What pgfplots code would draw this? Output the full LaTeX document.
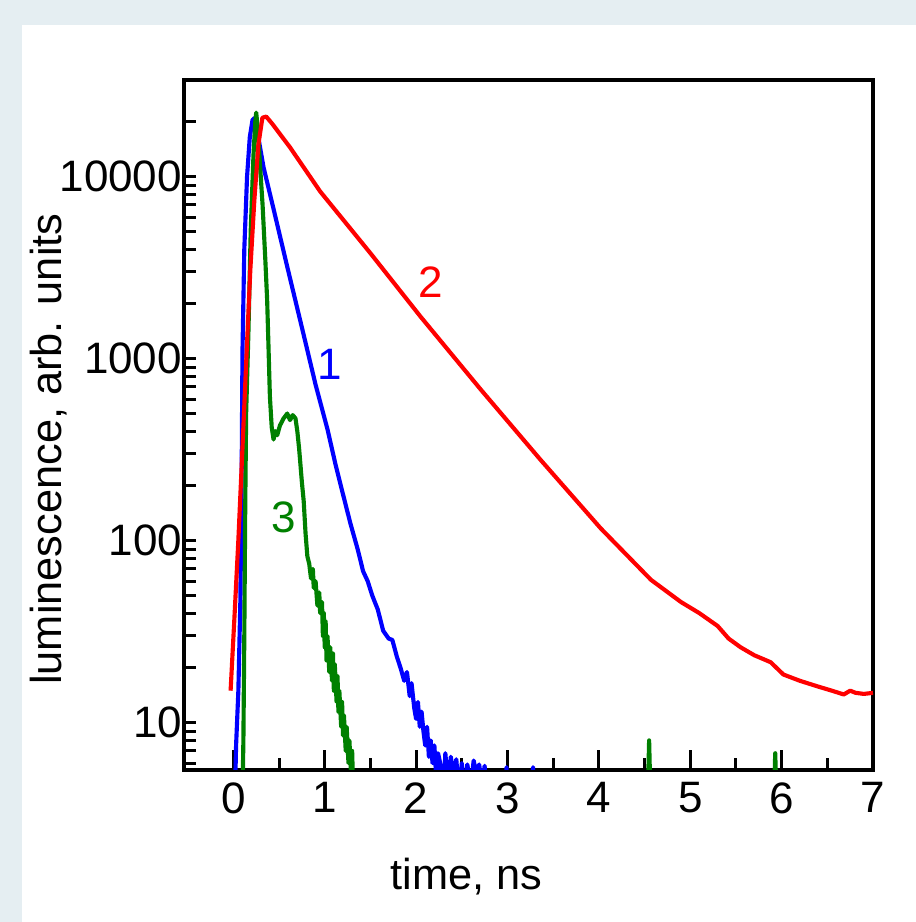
\documentclass[border=0pt]{standalone}
\usepackage{fontspec}
\setmainfont{Liberation Sans}
\usepackage{pgfplots}
\pgfplotsset{compat=1.18}
\definecolor{panelbg}{RGB}{229,238,242}
\definecolor{curvegreen}{RGB}{0,128,0}
\begin{document}
\begin{tikzpicture}[x=0.75pt,y=0.75pt]
\fill[panelbg] (0,0) rectangle (916,922);
\fill[white] (22,0) rectangle (916,897);
\begin{axis}[
  at={(138pt,114pt)}, anchor=south west,
  scale only axis, width=516.75pt, height=517.5pt,
  ymode=log,
  xmin=-0.54, xmax=7, ymin=5.5, ymax=34000,
  axis line style={line width=2.4pt},
  xtick={0,1,...,7},
  minor xtick={0.5,1.5,...,6.5},
  ytick={10,100,1000,10000},
  yticklabels={10,100,1000,10000},
  minor ytick={6,7,8,9,20,30,40,50,60,70,80,90,200,300,400,500,600,700,800,900,
               2000,3000,4000,5000,6000,7000,8000,9000,20000},
  xtick pos=left, ytick pos=left,
  tick align=inside,
  major tick length=15pt, minor tick length=9pt,
  xtick style={line width=2.2pt, black},
  ytick style={line width=2.2pt, black, /pgfplots/major tick length=9pt},
  /pgf/number format/assume math mode=true,
  tick label style={font=\fontsize{33}{33}\selectfont},
  xticklabel style={yshift=-6pt},
  yticklabel style={xshift=2pt},
  xlabel={time, ns},
  ylabel={luminescence, arb. units},
  xlabel style={font=\fontsize{32.5}{33}\selectfont, at={(axis description cs:0.41,-0.154)}, anchor=center},
  ylabel style={font=\fontsize{32.5}{33}\selectfont, at={(axis description cs:-0.196,0.465)}, anchor=center},
  clip=true,
]
% curve 1 (blue)
\addplot[blue, line width=3.1pt, line join=round] coordinates {
  (0.00,3) (0.02,4.5) (0.03,7.5) (0.055,15) (0.077,47) (0.09,200) (0.10,1100)
  (0.12,4000) (0.15,10000) (0.18,16500) (0.21,20500) (0.23,21000) (0.25,19500)
  (0.27,16800) (0.33,11300) (0.44,6650) (0.59,3200) (0.77,1350) (0.90,720)
  (1.03,410) (1.12,260) (1.20,180) (1.28,125) (1.36,90) (1.42,68) (1.47,60)
  (1.52,50) (1.58,42) (1.64,32) (1.70,29) (1.74,28.5) (1.79,23) (1.83,20)
  (1.87,17) (1.90,19) (1.93,14) (1.95,16.5) (1.98,12) (2.00,10.5) (2.02,13)
  (2.04,9.5) (2.06,11.5) (2.08,9) (2.10,7.5) (2.12,9.5) (2.14,6.5) (2.16,8)
  (2.18,6) (2.20,7.5) (2.22,5) (2.24,6.8) (2.27,5.8) (2.30,4) (2.32,6.8)
  (2.35,4.5) (2.38,6.5) (2.41,5) (2.44,6.3) (2.47,4) (2.50,6) (2.53,4)
  (2.56,5.9) (2.60,4.5) (2.63,6.2) (2.66,5.2) (2.69,5.9) (2.72,4.5) (2.75,5.8)
  (2.78,3) (2.97,3) (2.99,5.7) (3.01,3) (3.26,3) (3.28,5.7) (3.30,3) (7.0,3)
};
% curve 3 (green)
\addplot[curvegreen, line width=3.1pt, line join=round] coordinates {
  (0.08,3) (0.10,4) (0.11,8) (0.12,30) (0.13,150) (0.14,500) (0.165,1400)
  (0.19,5000) (0.22,13000) (0.24,20000) (0.25,22500) (0.265,19000) (0.29,12000)
  (0.32,7000) (0.35,3500) (0.37,2100) (0.385,1150) (0.40,620) (0.42,420)
  (0.44,360) (0.46,400) (0.48,380) (0.51,430) (0.55,470) (0.59,500) (0.62,460)
  (0.65,490) (0.68,470) (0.70,400) (0.72,320) (0.75,210) (0.77,165) (0.79,110)
  (0.81,82) (0.83,75) (0.85,62) (0.87,70) (0.88,55) (0.90,60) (0.92,44)
  (0.94,52) (0.95,40) (0.97,46) (0.98,30) (0.99,40) (1.00,26) (1.01,36)
  (1.02,22) (1.03,30) (1.05,19) (1.06,26) (1.08,17) (1.09,24) (1.10,15)
  (1.11,21) (1.13,13) (1.14,18) (1.15,11.5) (1.16,15) (1.18,9.5) (1.19,13)
  (1.20,8.5) (1.21,11) (1.23,7) (1.24,9.5) (1.26,6) (1.27,8) (1.29,5) (1.30,7)
  (1.32,3) (4.53,3) (4.55,8) (4.57,3) (5.91,3) (5.93,6.8) (5.95,3) (7.0,3)
};
% curve 2 (red)
\addplot[red, line width=3.1pt, line join=round] coordinates {
  (-0.03,15) (0.011,37) (0.055,101) (0.099,316) (0.142,990) (0.186,3090)
  (0.23,7450) (0.274,15000) (0.318,21100) (0.36,21400) (0.427,19500)
  (0.62,14500) (0.95,8300) (1.50,3800) (2.05,1700) (2.71,675) (3.36,279)
  (4.02,117) (4.57,61) (4.90,46) (5.10,40) (5.30,34) (5.42,29) (5.55,26)
  (5.70,23.5) (5.88,21.5) (6.02,18.4) (6.20,17) (6.40,15.8) (6.55,15)
  (6.68,14.3) (6.75,15) (6.81,14.6) (6.90,14.4) (7.0,14.6)
};
\node[text=red, font=\fontsize{33}{33}\selectfont] at (axis cs:2.16,2630) {2};
\node[text=blue, font=\fontsize{33}{33}\selectfont] at (axis cs:1.05,927) {1};
\node[text=curvegreen, font=\fontsize{33}{33}\selectfont] at (axis cs:0.55,135) {3};
\end{axis}
\end{tikzpicture}
\end{document}
